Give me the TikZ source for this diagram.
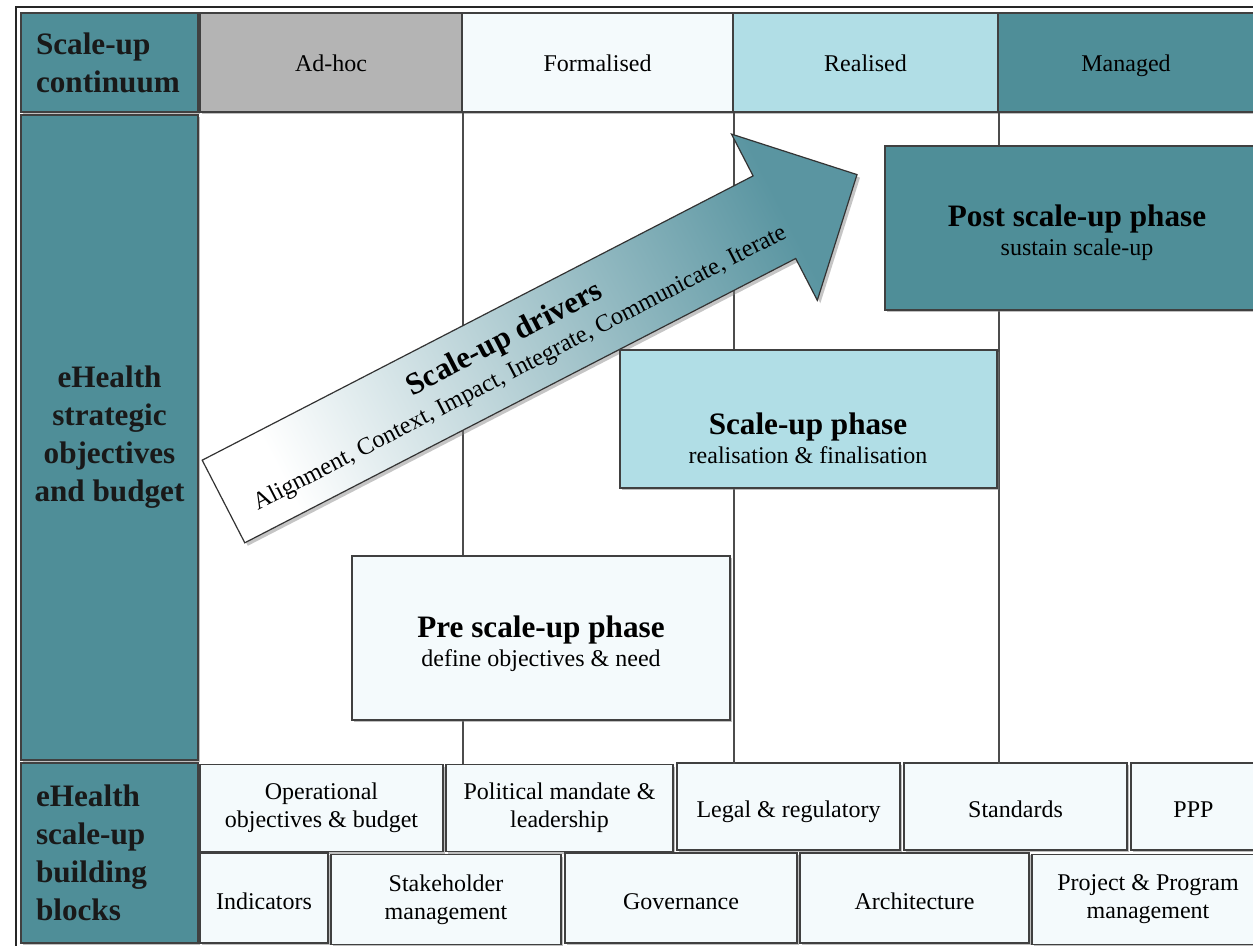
\documentclass[tikz,border=0pt]{standalone}
\usepackage{fontspec}
\setmainfont{Liberation Serif}
\usetikzlibrary{shadows}

\definecolor{darkteal}{HTML}{4F8E98}
\definecolor{paleblue}{HTML}{B1DEE6}
\definecolor{adhocgrey}{HTML}{B4B4B4}
\definecolor{palewhite}{HTML}{F4FAFC}
\definecolor{arrowteal}{HTML}{5A95A1}

\tikzset{
    cell/.style={draw=black!75, line width=0.6pt, inner sep=0pt,
        drop shadow={shadow xshift=1pt, shadow yshift=-1.2pt, opacity=0.5}},
    sidecell/.style={cell, fill=darkteal, text=black!90, minimum width=88.5pt,
        font=\bfseries\fontsize{15.6}{19}\selectfont},
    headcell/.style={cell, minimum height=49.5pt, text height=9pt, text depth=0pt,
        font=\fontsize{12}{14}\selectfont},
    blockcell/.style={cell, fill=palewhite, align=center, font=\fontsize{12}{14}\selectfont},
    oneline/.style={text height=11pt, text depth=0pt},
    phasebox/.style={cell, line width=0.8pt},
    phasetext/.style={align=center, font=\fontsize{12}{14.5}\selectfont},
    gridline/.style={draw=black!70, line width=0.9pt},
    arrowbody/.style={draw=black!80, line width=0.6pt, left color=white, right color=arrowteal,
        shading angle=117.3, drop shadow={shadow xshift=1.5pt, shadow yshift=-1.5pt, opacity=0.45}}
}

\begin{document}
\begin{tikzpicture}[x=0.5pt, y=-0.5pt]
            \clip (0,0) rectangle (1253,946);
            \fill[white] (0,0) rectangle (1253,946);
            \draw[black!85, line width=1.2pt] (16,7) rectangle (1275,960);

            \node[sidecell, minimum height=49.5pt, text width=73.5pt, inner xsep=7.5pt, align=left] (continuum) at (109.5,62.5) {Scale-up\\continuum};
            \node[sidecell, minimum height=322.5pt, align=center] (strategic) at (109.5,437.5) {eHealth\\strategic\\objectives\\and budget};
            \node[sidecell, minimum height=90pt, text width=73.5pt, inner xsep=7.5pt, align=left] (buildblocks) at (109.5,853) {eHealth\\scale-up\\building\\blocks};

            \node[headcell, fill=adhocgrey, minimum width=131pt] (adhoc) at (331,62.5) {Ad-hoc};
            \node[headcell, fill=palewhite, minimum width=135.5pt] (formal) at (597.5,62.5) {Formalised};
            \node[headcell, fill=paleblue, minimum width=132.5pt] (realised) at (865.5,62.5) {Realised};
            \node[headcell, fill=darkteal, minimum width=128pt] (managed) at (1126,62.5) {Managed};

            \node[blockcell, minimum width=121.5pt, minimum height=43.5pt] (ops) at (321.5,808) {Operational\\objectives \& budget};
            \node[blockcell, minimum width=113.5pt, minimum height=43.5pt] (politics) at (559.5,808) {Political mandate \&\\leadership};
            \node[blockcell, oneline, minimum width=111.5pt, minimum height=43.5pt] (legal) at (788.5,806.5) {Legal \& regulatory};
            \node[blockcell, oneline, minimum width=111.5pt, minimum height=43.5pt] (standards) at (1015.5,806.5) {Standards};
            \node[blockcell, oneline, minimum width=62.5pt, minimum height=43.5pt] (ppp) at (1193.5,806.5) {PPP};

            \node[blockcell, oneline, minimum width=64pt, minimum height=45pt] (indicators) at (264,898) {Indicators};
            \node[blockcell, minimum width=115pt, minimum height=45pt] (stakeholders) at (446,899.5) {Stakeholder\\management};
            \node[blockcell, oneline, minimum width=116pt, minimum height=45pt] (governance) at (681,898) {Governance};
            \node[blockcell, oneline, minimum width=114.5pt, minimum height=45pt] (architecture) at (914.5,898) {Architecture};
            \node[blockcell, minimum width=116pt, minimum height=45pt] (projects) at (1148,899.5) {Project \& Program\\management};

            \draw[gridline] (adhoc.south east) -- (adhoc.south east |- ops.north);
            \draw[gridline] (formal.south east) -- (formal.south east |- ops.north);
            \draw[gridline] (realised.south east) -- (realised.south east |- ops.north);

            \path[arrowbody] (202.2,460.2) -- (753.1,175.9) -- (731.5,134.1) -- (857.0,174.6)
                -- (817.3,300.3) -- (795.7,258.5) -- (244.8,542.8) -- cycle;
            \node[rotate=27.3, align=center, font=\fontsize{12.2}{15.5}\selectfont] (drivers) at (512,353)
                {{\bfseries\fontsize{15.5}{15.5}\selectfont Scale-up drivers}\\Alignment, Context, Impact, Integrate, Communicate, Iterate};

            \node[phasebox, fill=palewhite, minimum width=189pt, minimum height=82pt] (prebox) at (541,638) {};
            \node[phasetext] (pretext) at (541,644) {{\bfseries\fontsize{15.6}{17}\selectfont Pre scale-up phase}\\define objectives \& need};

            \node[phasebox, fill=paleblue, minimum width=188.5pt, minimum height=69pt] (scalebox) at (808.5,419) {};
            \node[phasetext] (scaletext) at (808,438) {{\bfseries\fontsize{15.6}{17}\selectfont Scale-up phase}\\realisation \& finalisation};

            \node[phasebox, fill=darkteal, minimum width=191.5pt, minimum height=82pt] (postbox) at (1076.5,228) {};
            \node[phasetext] (posttext) at (1077,233) {{\bfseries\fontsize{15.6}{17}\selectfont Post scale-up phase}\\sustain scale-up};
        \end{tikzpicture}
\end{document}
